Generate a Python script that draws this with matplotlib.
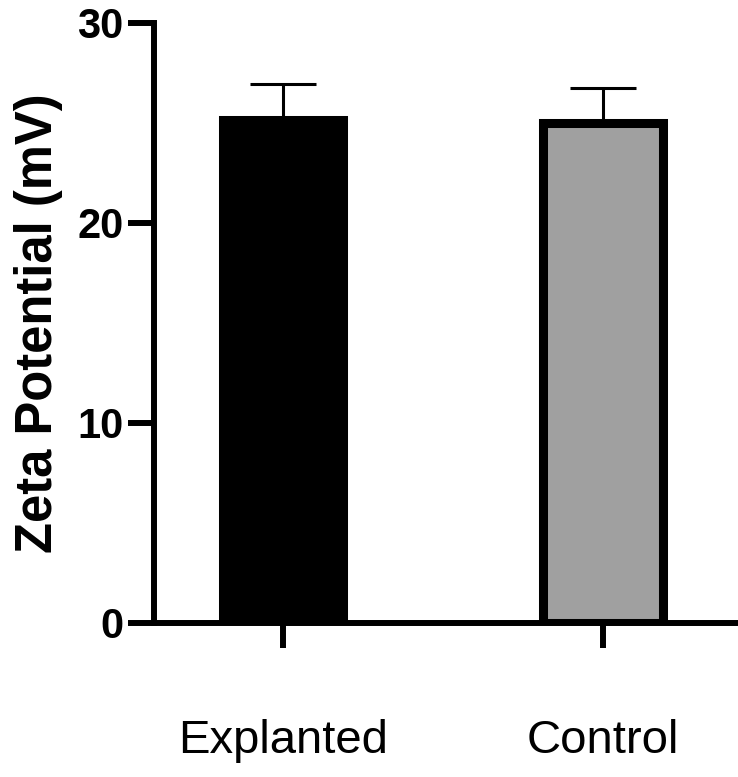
import matplotlib
matplotlib.use("Agg")
import matplotlib.pyplot as plt

categories = ["Explanted", "Control"]
means = [25.14, 24.98]
errors = [1.81, 1.76]
fill_colors = ["#000000", "#a0a0a0"]
yticks = [0, 10, 20, 30]

plt.rcParams['font.family'] = ['Liberation Sans', 'DejaVu Sans']

fig = plt.figure(figsize=(7.38, 7.77), dpi=100)
ax = fig.add_axes([154/738, 154/777, (736-154)/738, (754-154)/777])

x = list(range(len(categories)))
ax.errorbar(x, means, yerr=[[0]*len(errors), errors], fmt='none', ecolor='black',
            elinewidth=2.2, capsize=24, capthick=2.2, zorder=1)
ax.bar(x, means, width=0.373, color=fill_colors, edgecolor='black', linewidth=6.5, zorder=2)

ax.set_xlim(-0.403, 1.416)
ax.set_ylim(0, 30)
ax.set_yticks(yticks)
ax.set_xticks(x)
ax.set_xticklabels(categories, fontsize=34)
for lab in ax.get_yticklabels():
    lab.set_fontweight('bold')
    lab.set_fontsize(30)

for s in ['top', 'right']:
    ax.spines[s].set_visible(False)
for s in ['left', 'bottom']:
    ax.spines[s].set_linewidth(4.3)
    ax.spines[s].set_capstyle('projecting')

ax.tick_params(axis='y', length=18.5, width=4.3, pad=3.6)
ax.tick_params(axis='x', length=18, width=4.3, pad=51)
ax.set_ylabel("Zeta Potential (mV)", fontsize=36.5, fontweight='bold', labelpad=10)

fig.savefig("out.png", dpi=100)
